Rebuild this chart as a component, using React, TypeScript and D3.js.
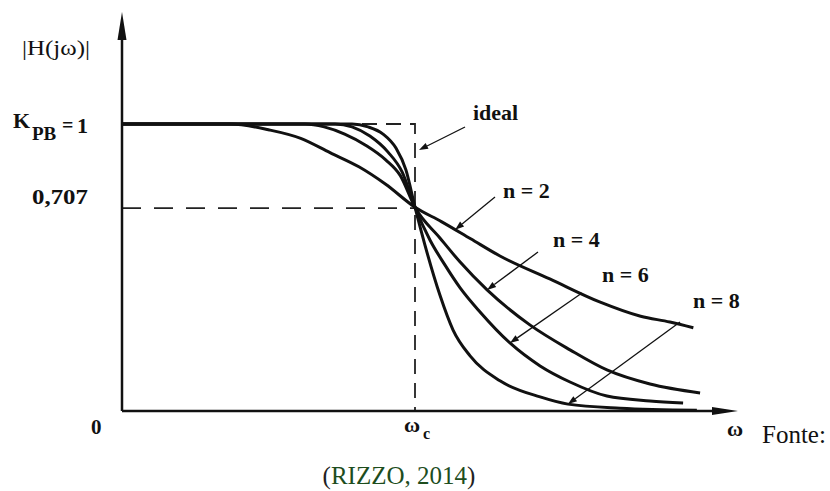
import React from 'react';
import * as d3 from 'd3';

const W = 830;
const H = 491;

// Butterworth low-pass magnitude |H(jω)| against ω/ωc, one array per order
const curveN2: [number, number][] = [
  [0, 1], [0.37, 1], [0.5, 0.98], [0.61, 0.95], [0.71, 0.9], [0.81, 0.85], [0.9, 0.79],
  [1.0, 0.71], [1.09, 0.66], [1.19, 0.6], [1.29, 0.54], [1.46, 0.46], [1.63, 0.38],
  [1.77, 0.33], [1.87, 0.31], [1.95, 0.29],
];
const curveN4: [number, number][] = [
  [0, 1], [0.625, 1], [0.69, 0.99], [0.76, 0.965], [0.83, 0.927], [0.9, 0.875], [0.95, 0.82],
  [1.0, 0.71], [1.085, 0.603], [1.154, 0.519], [1.246, 0.422], [1.392, 0.3], [1.529, 0.213],
  [1.655, 0.143], [1.802, 0.094], [1.973, 0.063],
];
const curveN6: [number, number][] = [
  [0, 1], [0.727, 1], [0.785, 0.99], [0.846, 0.958], [0.908, 0.902], [0.956, 0.833],
  [1.0, 0.71], [1.051, 0.596], [1.102, 0.509], [1.154, 0.429], [1.222, 0.345], [1.324, 0.237],
  [1.427, 0.157], [1.529, 0.101], [1.655, 0.052], [1.802, 0.035], [1.915, 0.028],
];
const curveN8: [number, number][] = [
  [0, 1], [0.785, 1], [0.84, 0.99], [0.891, 0.965], [0.935, 0.916], [0.969, 0.84],
  [1.0, 0.71], [1.034, 0.578], [1.085, 0.404], [1.13, 0.282], [1.188, 0.192], [1.29, 0.105],
  [1.427, 0.049], [1.522, 0.024], [1.7, 0.01], [1.962, 0.003],
];
const curveIdeal: [number, number][] = [[0, 1], [1, 1], [1, 0]];

const orders = [2, 4, 6, 8];
const curves = [curveN2, curveN4, curveN6, curveN8];
// ω/ωc where each order's pointer meets its curve
const pointerOmega = [1.137, 1.246, 1.324, 1.522];

const halfPowerGain = 0.707;
const halfPowerLabel = '0,707';
const passbandGain = 1;

// scales: ω/ωc → px, |H| → px
const x = d3.scaleLinear().domain([0, 1]).range([122, 415]);
const y = d3.scaleLinear().domain([0, 1]).range([411, 124]);

const line = d3
  .line<[number, number]>()
  .x((d) => x(d[0]))
  .y((d) => y(d[1]))
  .curve(d3.curveMonotoneX);

const lineStraight = d3
  .line<[number, number]>()
  .x((d) => x(d[0]))
  .y((d) => y(d[1]));

function gainAt(curve: [number, number][], w: number): number {
  for (let i = 1; i < curve.length; i++) {
    if (curve[i][0] >= w) {
      const [w0, h0] = curve[i - 1];
      const [w1, h1] = curve[i];
      return h0 + ((w - w0) / (w1 - w0)) * (h1 - h0);
    }
  }
  return curve[curve.length - 1][1];
}

function Arrow({ x1, y1, x2, y2, len = 9, half = 3.2, width = 1.3 }: any) {
  const a = Math.atan2(y2 - y1, x2 - x1);
  const bx = x2 - len * Math.cos(a);
  const by = y2 - len * Math.sin(a);
  const px = -Math.sin(a) * half;
  const py = Math.cos(a) * half;
  return (
    <g>
      <line x1={x1} y1={y1} x2={bx} y2={by} stroke="#111" strokeWidth={width} />
      <polygon points={`${x2},${y2} ${bx + px},${by + py} ${bx - px},${by - py}`} fill="#111" />
    </g>
  );
}

const labelPos = [
  { lx: 503, ly: 198, sx: 495, sy: 197 },
  { lx: 553, ly: 247, sx: 538, sy: 252 },
  { lx: 602, ly: 282, sx: 582, sy: 293 },
  { lx: 693, ly: 308, sx: 680, sy: 322 },
];

export default function App() {
  const serif = '"Liberation Serif", "Times New Roman", serif';
  const x0 = x(0);
  const y0 = y(0);
  return (
    <svg
      width={W}
      height={H}
      viewBox={`0 0 ${W} ${H}`}
      style={{ position: 'absolute', left: 0, top: 0, background: '#fff' }}
    >
      <rect width={W} height={H} fill="#fff" />

      {/* half-power guide */}
      <path
        d={lineStraight([[0, halfPowerGain], [1, halfPowerGain]])!}
        fill="none"
        stroke="#222"
        strokeWidth={1.8}
        strokeDasharray="19 13"
      />
      {/* ideal brick-wall response */}
      <path
        d={lineStraight(curveIdeal)!}
        fill="none"
        stroke="#222"
        strokeWidth={1.8}
        strokeDasharray="15 9"
      />

      {/* axes */}
      <line x1={x0} y1={y0} x2={x0} y2={30} stroke="#111" strokeWidth={2.5} />
      <polygon points={`${x0},12 ${x0 - 4.5},40 ${x0 + 4.5},40`} fill="#111" />
      <line x1={x0} y1={y0} x2={720} y2={y0} stroke="#111" strokeWidth={2.5} />
      <polygon points={`738,${y0} 712,${y0 - 4} 712,${y0 + 4}`} fill="#111" />

      {/* responses */}
      {curves.map((c, i) => (
        <path key={orders[i]} d={line(c)!} fill="none" stroke="#111" strokeWidth={3} />
      ))}

      {/* pointers */}
      <Arrow x1={465} y1={127} x2={x(1) + 4} y2={150} />
      {orders.map((n, i) => {
        const w = pointerOmega[i];
        const p = labelPos[i];
        return (
          <g key={n}>
            <Arrow x1={p.sx} y1={p.sy} x2={x(w)} y2={y(gainAt(curves[i], w))} />
            <text x={p.lx} y={p.ly} fontFamily={serif} fontWeight="bold" fontSize={22} fill="#111">
              {`n = ${n}`}
            </text>
          </g>
        );
      })}
      <text x={473} y={120} fontFamily={serif} fontWeight="bold" fontSize={22} fill="#111">
        ideal
      </text>

      {/* axis labels */}
      <text x={22} y={55} fontFamily={serif} fontSize={21} fill="#111" textLength={68} lengthAdjust="spacingAndGlyphs">
        |H(jω)|
      </text>
      <text fontFamily={serif} fontWeight="bold" fill="#111">
        <tspan x={13} y={y(passbandGain) + 4} fontSize={22}>K</tspan>
        <tspan x={32} y={y(passbandGain) + 16} fontSize={19}>PB</tspan>
        <tspan x={62} y={y(passbandGain) + 8} fontSize={20}>=</tspan>
        <tspan x={77} y={y(passbandGain) + 9} fontSize={22}>{passbandGain}</tspan>
      </text>
      <text
        x={32}
        y={y(halfPowerGain) - 4}
        fontFamily={serif}
        fontWeight="bold"
        fontSize={22}
        fill="#111"
        textLength={56}
        lengthAdjust="spacingAndGlyphs"
      >
        {halfPowerLabel}
      </text>
      <text x={91} y={434} fontFamily={serif} fontWeight="bold" fontSize={21} fill="#111">0</text>
      <text fontFamily={serif} fontWeight="bold" fill="#111">
        <tspan x={x(1) - 11} y={432} fontSize={22}>ω</tspan>
        <tspan x={x(1) + 8} y={439} fontSize={16}>c</tspan>
      </text>
      <text x={727} y={436} fontFamily={serif} fontWeight="bold" fontSize={22} fill="#111">ω</text>

      {/* source */}
      <text x={762} y={443} fontFamily={serif} fontSize={25} fill="#111">Fonte:</text>
      <text x={399} y={484} fontFamily={serif} fontSize={25} textAnchor="middle">
        <tspan fill="#222">(</tspan>
        <tspan fill="#1d4d1d">RIZZO, 2014</tspan>
        <tspan fill="#222">)</tspan>
      </text>
    </svg>
  );
}
